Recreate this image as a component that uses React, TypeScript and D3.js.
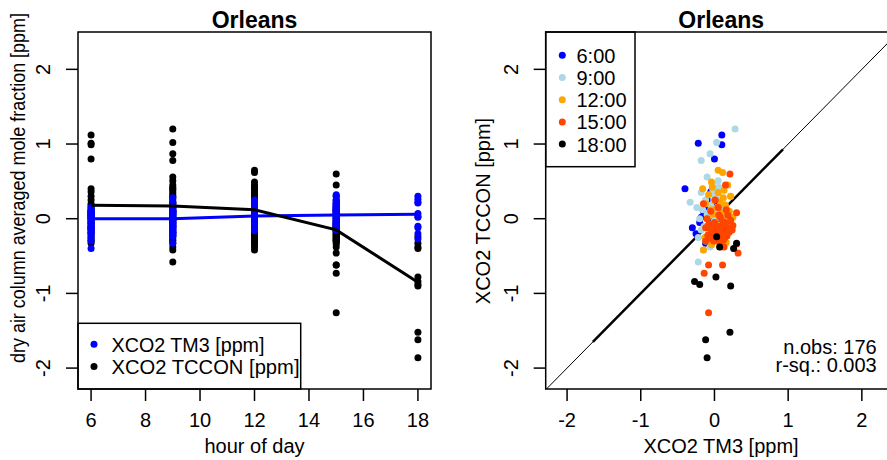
import React from "react";
import * as d3 from "d3";

// ---------- data ----------
const hours = [6, 9, 12, 15, 18];
const hourLabels = ["6:00", "9:00", "12:00", "15:00", "18:00"];
const hourColors = ["#0000FF", "#ADD8E6", "#FFA500", "#FF4500", "#000000"];

const tm3_06 = [0.10, -0.22, 0.10, 0.00, -0.40, -0.05, 0.05, -0.10, 0.12, 0.02, -0.08, 0.09, -0.15, 0.00, 0.06, -0.18, 0.04, -0.02, 0.07, -0.20, 0.15, -0.06, 0.03, -0.25, -0.12, 0.01, -0.30, -0.12, 0.08, -0.14];
const tccon_06 = [1.12, 1.01, 0.99, 0.80, 0.40, 0.36, 0.30, 0.25, 0.20, 0.18, 0.15, 0.12, 0.10, 0.08, 0.05, 0.02, 0.00, -0.03, -0.11, -0.05, -0.08, -0.15, -0.18, -0.20, -0.25, -0.28, -0.12, -0.33, -0.30, 0.05];

const tm3_09 = [0.28, 0.03, -0.06, -0.18, -0.10, 0.05, -0.02, 0.10, -0.18, 0.00, -0.33, 0.08, -0.12, 0.12, -0.05, 0.08, -0.16, 0.02, -0.08, 0.15, -0.10, 0.05, -0.20, 0.00, 0.12, -0.04, -0.14, 0.08, -0.18, 0.03, -0.08, 0.15, -0.22, 0.01, -0.12, 0.10, -0.06, -0.15, -0.22, 0.22, 0.20, -0.24, 0.18, -0.02, 0.06];
const tccon_09 = [1.20, 1.02, 0.87, 0.78, 0.56, 0.51, 0.45, 0.40, 0.35, 0.32, 0.22, 0.28, 0.25, 0.20, 0.18, 0.15, 0.12, 0.10, 0.08, 0.06, 0.05, 0.02, 0.00, -0.02, -0.05, -0.08, -0.10, -0.12, -0.15, -0.18, -0.20, -0.22, -0.25, -0.28, -0.30, -0.33, -0.38, -0.42, -0.58, 0.30, 0.10, 0.15, -0.02, 0.38, 0.42];

const tm3_12 = [0.05, 0.11, -0.04, -0.16, 0.18, 0.05, 0.22, -0.08, 0.12, 0.00, 0.08, -0.12, 0.15, 0.03, -0.05, 0.20, 0.10, -0.02, 0.06, 0.25, -0.10, 0.14, 0.01, 0.09, -0.06, 0.17, 0.04, -0.13, 0.07, -0.01, 0.12, -0.08, 0.02, 0.16, -0.04, 0.09, -0.15, 0.06, -0.03, 0.13];
const tccon_12 = [0.65, 0.62, 0.49, 0.40, 0.45, 0.35, 0.30, 0.32, 0.28, 0.25, 0.22, 0.20, 0.18, 0.15, 0.12, 0.10, 0.08, 0.06, 0.04, 0.02, 0.00, -0.02, -0.05, -0.08, -0.10, -0.12, -0.15, -0.25, -0.18, -0.20, -0.22, -0.28, -0.30, -0.32, -0.35, -0.38, -0.42, 0.15, 0.42, 0.38];

const tm3_15 = [0.21, 0.15, 0.05, -0.05, 0.18, 0.08, -0.10, 0.22, 0.12, 0.00, 0.16, -0.08, 0.25, 0.06, 0.10, -0.12, 0.19, 0.03, 0.13, -0.04, 0.08, 0.20, -0.02, 0.11, 0.05, -0.09, 0.17, 0.02, 0.14, -0.06, 0.09, 0.04, 0.12, -0.01, 0.07, 0.30, 0.32, 0.11, -0.08, -0.14, -0.08, 0.30, -0.15, 0.01, 0.24, -0.12, 0.16, 0.06, -0.03, 0.13];
const tccon_15 = [0.60, 0.45, 0.15, 0.10, 0.05, 0.02, 0.00, -0.02, -0.04, -0.05, -0.06, -0.08, -0.09, -0.10, -0.11, -0.12, -0.13, -0.14, -0.15, -0.16, -0.17, -0.18, -0.19, -0.20, -0.21, -0.22, -0.23, -0.24, -0.25, -0.26, -0.27, -0.28, -0.29, -0.30, -0.32, -0.34, -0.46, -0.62, -0.62, -0.73, -1.26, 0.08, 0.20, 0.25, -0.15, -0.30, 0.12, 0.05, -0.08, -0.38];

const tm3_18 = [0.26, 0.02, -0.27, 0.21, -0.12, -0.10, 0.03, 0.30, 0.07, -0.20, 0.22];
const tccon_18 = [-0.40, -0.78, -0.84, -1.52, -1.62, -1.86, -0.24, -0.33, -0.38, -0.88, -0.90];

const tm3ByHour = [tm3_06, tm3_09, tm3_12, tm3_15, tm3_18];
const tcconByHour = [tccon_06, tccon_09, tccon_12, tccon_15, tccon_18];

const meanTM3 = [0.0, 0.0, 0.035, 0.05, 0.06];
const meanTCCON = [0.18, 0.17, 0.12, -0.15, -0.85];

const leftXTicks = [6, 8, 10, 12, 14, 16, 18];
const yTicks = [-2, -1, 0, 1, 2];
const rightXTicks = [-2, -1, 0, 1, 2];
const fitSegment = [-1.65, 0.93];
const seriesLabels = ["XCO2 TM3 [ppm]", "XCO2 TCCON [ppm]"];
const nObsText = "n.obs: 176";
const rsqText = "r-sq.: 0.003";

// ---------- layout ----------
const W = 887, H = 460;
const top = 32, bottom = 389;
const L = { x0: 78, x1: 431 };
const R = { x0: 545.7, x1: 898.7 };
const FONT = "'Liberation Sans', Arial, Helvetica, sans-serif";
const FS = 20;
const TICK = 12;

export default function App() {
  const y = d3.scaleLinear().domain([-2.28, 2.5]).range([bottom, top]);
  const xL = d3.scaleLinear().domain([5.52, 18.48]).range([L.x0, L.x1]);
  const xR = d3.scaleLinear().domain([-2.29, 2.5]).range([R.x0, R.x1]);

  const lineL = d3.line<number>().x((_, i) => xL(hours[i])).y((d) => y(d));

  const axisStroke = { stroke: "#000", strokeWidth: 1.5, fill: "none" } as const;

  return (
    <svg
      width={W}
      height={H}
      style={{ position: "absolute", left: 0, top: 0, background: "#fff" }}
      fontFamily={FONT}
    >
      <defs>
        <clipPath id="clipL">
          <rect x={L.x0} y={top} width={L.x1 - L.x0} height={bottom - top} />
        </clipPath>
        <clipPath id="clipR">
          <rect x={R.x0} y={top} width={R.x1 - R.x0} height={bottom - top} />
        </clipPath>
      </defs>
      <rect x={0} y={0} width={W} height={H} fill="#fff" />

      {/* ---------------- LEFT PANEL ---------------- */}
      <text x={(L.x0 + L.x1) / 2} y={28} textAnchor="middle" fontWeight="bold" fontSize={23}>
        Orleans
      </text>
      <g clipPath="url(#clipL)">
        {hours.map((h, hi) =>
          tcconByHour[hi].map((v, i) => (
            <circle key={`b${hi}-${i}`} cx={xL(h)} cy={y(v)} r={3.5} fill="#000" />
          ))
        )}
        {hours.map((h, hi) =>
          tm3ByHour[hi].map((v, i) => (
            <circle key={`u${hi}-${i}`} cx={xL(h)} cy={y(v)} r={3.5} fill="#0000FF" />
          ))
        )}
        <path d={lineL(meanTM3) || ""} stroke="#0000FF" strokeWidth={3} fill="none" />
        <path d={lineL(meanTCCON) || ""} stroke="#000" strokeWidth={3} fill="none" />
      </g>
      {/* legend left */}
      <rect x={L.x0} y={323.3} width={222.7} height={bottom - 323.3} fill="#fff" stroke="#000" strokeWidth={1.5} />
      {seriesLabels.map((s, i) => (
        <g key={s}>
          <circle cx={94} cy={344.2 + i * 22.3} r={3.5} fill={i === 0 ? "#0000FF" : "#000"} />
          <text
            x={111.5}
            y={351.7 + i * 22.3}
            fontSize={FS}
            textLength={i === 0 ? 153 : 188}
            lengthAdjust="spacingAndGlyphs"
          >
            {s}
          </text>
        </g>
      ))}
      <rect x={L.x0} y={top} width={L.x1 - L.x0} height={bottom - top} {...axisStroke} />
      {/* left x axis */}
      {leftXTicks.map((t) => (
        <g key={`lx${t}`}>
          <line x1={xL(t)} x2={xL(t)} y1={bottom} y2={bottom + TICK} stroke="#000" strokeWidth={1.5} />
          <text x={xL(t)} y={427} textAnchor="middle" fontSize={FS}>
            {t}
          </text>
        </g>
      ))}
      <text x={(L.x0 + L.x1) / 2} y={453} textAnchor="middle" fontSize={FS}>
        hour of day
      </text>
      {/* left y axis */}
      {yTicks.map((t) => (
        <g key={`ly${t}`}>
          <line x1={L.x0 - TICK} x2={L.x0} y1={y(t)} y2={y(t)} stroke="#000" strokeWidth={1.5} />
          <text transform={`translate(${L.x0 - 28},${y(t)}) rotate(-90)`} textAnchor="middle" fontSize={FS}>
            {t}
          </text>
        </g>
      ))}
      <text
        transform={`translate(25,188) rotate(-90)`}
        textAnchor="middle"
        fontSize={FS}
        textLength={350}
        lengthAdjust="spacingAndGlyphs"
      >
        dry air column averaged mole fraction [ppm]
      </text>

      {/* ---------------- RIGHT PANEL ---------------- */}
      <text x={(R.x0 + R.x1) / 2 - 1} y={28} textAnchor="middle" fontWeight="bold" fontSize={23}>
        Orleans
      </text>
      <g clipPath="url(#clipR)">
        <line x1={xR(-3)} y1={y(-3)} x2={xR(3)} y2={y(3)} stroke="#000" strokeWidth={1} />
        <line
          x1={xR(fitSegment[0])}
          y1={y(fitSegment[0])}
          x2={xR(fitSegment[1])}
          y2={y(fitSegment[1])}
          stroke="#000"
          strokeWidth={2.5}
        />
        {hours.map((h, hi) =>
          tm3ByHour[hi].map((v, i) => (
            <circle
              key={`s${hi}-${i}`}
              cx={xR(v)}
              cy={y(tcconByHour[hi][i])}
              r={3.5}
              fill={hourColors[hi]}
            />
          ))
        )}
      </g>
      {/* legend right */}
      <rect x={R.x0} y={top} width={89.3} height={134.7} fill="#fff" stroke="#000" strokeWidth={1.5} />
      {hourLabels.map((lab, i) => (
        <g key={lab}>
          <circle cx={562.3} cy={55.3 + i * 22.2} r={3.5} fill={hourColors[i]} />
          <text x={576.5} y={62.8 + i * 22.2} fontSize={FS}>
            {lab}
          </text>
        </g>
      ))}
      <text x={876.7} y={353.5} textAnchor="end" fontSize={FS}>
        {nObsText}
      </text>
      <text x={876.7} y={371.5} textAnchor="end" fontSize={FS}>
        {rsqText}
      </text>
      <rect x={R.x0} y={top} width={R.x1 - R.x0} height={bottom - top} {...axisStroke} />
      {rightXTicks.map((t) => (
        <g key={`rx${t}`}>
          <line x1={xR(t)} x2={xR(t)} y1={bottom} y2={bottom + TICK} stroke="#000" strokeWidth={1.5} />
          <text x={xR(t)} y={427} textAnchor="middle" fontSize={FS}>
            {t}
          </text>
        </g>
      ))}
      <text x={721} y={453} textAnchor="middle" fontSize={FS}>
        XCO2 TM3 [ppm]
      </text>
      {yTicks.map((t) => (
        <g key={`ry${t}`}>
          <line x1={R.x0 - TICK} x2={R.x0} y1={y(t)} y2={y(t)} stroke="#000" strokeWidth={1.5} />
          <text transform={`translate(${R.x0 - 28},${y(t)}) rotate(-90)`} textAnchor="middle" fontSize={FS}>
            {t}
          </text>
        </g>
      ))}
      <text transform={`translate(490,211) rotate(-90)`} textAnchor="middle" fontSize={FS}>
        XCO2 TCCON [ppm]
      </text>
    </svg>
  );
}
